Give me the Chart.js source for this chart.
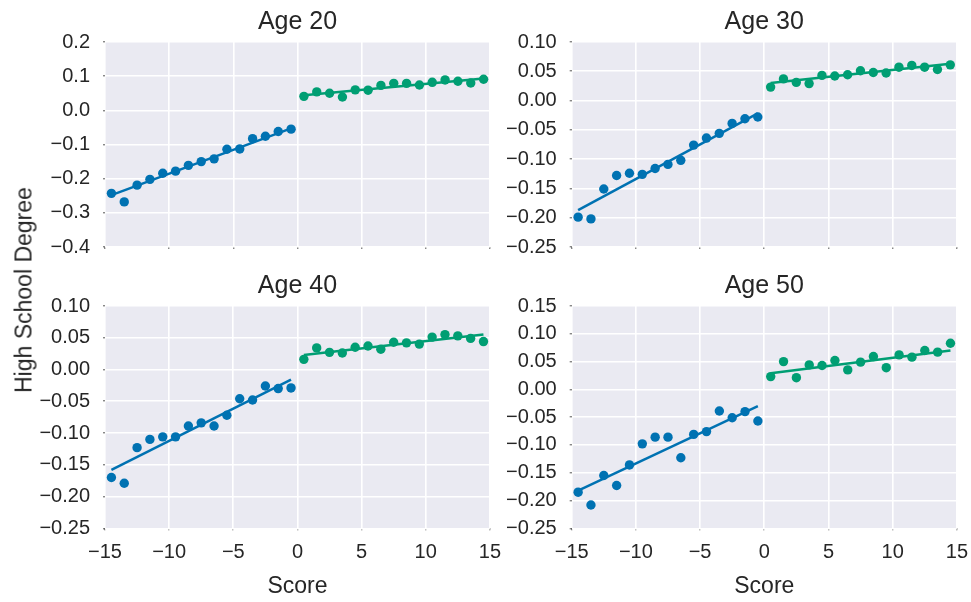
<!DOCTYPE html>
<html>
<head>
<meta charset="utf-8">
<script src="https://cdn.jsdelivr.net/npm/chart.js@4/dist/chart.umd.min.js"></script>
<style>
  html, body { margin: 0; padding: 0; background: #ffffff; }
  body { width: 971px; height: 602px; position: relative; overflow: hidden; }
  canvas { position: absolute; }
  #ylabel {
    position: absolute; left: 24px; top: 290px;
    transform: translate(-50%, -50%) rotate(-90deg);
    font-family: 'Liberation Sans', Arial, sans-serif; font-size: 23px;
    color: #262626; white-space: nowrap; line-height: 1;
  }
</style>
</head>
<body>
<canvas id="c20" width="500" height="272" style="left:0px;top:0px"></canvas>
<canvas id="c30" width="491" height="272" style="left:480px;top:0px"></canvas>
<canvas id="c40" width="511" height="338" style="left:0px;top:264px"></canvas>
<canvas id="c50" width="498" height="338" style="left:480px;top:264px"></canvas>
<div id="ylabel">High School Degree</div>
<script>
// ---- data ----
const binsBelow = [-14.5, -13.5, -12.5, -11.5, -10.5, -9.5, -8.5, -7.5, -6.5, -5.5, -4.5, -3.5, -2.5, -1.5, -0.5];
const binsAbove = [0.5, 1.5, 2.5, 3.5, 4.5, 5.5, 6.5, 7.5, 8.5, 9.5, 10.5, 11.5, 12.5, 13.5, 14.5];
const fitXBelow = [-14.5, -0.5];
const fitXAbove = [0.5, 14.5];

const age20Below = [-0.243, -0.268, -0.219, -0.202, -0.184, -0.178, -0.161, -0.150, -0.142, -0.114, -0.113, -0.083, -0.076, -0.062, -0.055];
const age20Above = [0.041, 0.054, 0.050, 0.039, 0.060, 0.059, 0.073, 0.079, 0.079, 0.074, 0.082, 0.089, 0.085, 0.080, 0.091];
const age20FitBelow = [-0.248, -0.053];
const age20FitAbove = [0.044, 0.093];

const age30Below = [-0.199, -0.202, -0.151, -0.128, -0.124, -0.126, -0.116, -0.109, -0.102, -0.076, -0.064, -0.056, -0.039, -0.031, -0.028];
const age30Above = [0.023, 0.037, 0.031, 0.029, 0.043, 0.042, 0.044, 0.051, 0.048, 0.047, 0.057, 0.060, 0.057, 0.053, 0.061];
const age30FitBelow = [-0.187, -0.022];
const age30FitAbove = [0.030, 0.063];

const age40Below = [-0.170, -0.179, -0.123, -0.110, -0.106, -0.106, -0.089, -0.084, -0.089, -0.072, -0.046, -0.048, -0.026, -0.030, -0.029];
const age40Above = [0.016, 0.034, 0.027, 0.026, 0.035, 0.037, 0.032, 0.043, 0.042, 0.040, 0.051, 0.055, 0.053, 0.049, 0.044];
const age40FitBelow = [-0.158, -0.016];
const age40FitAbove = [0.023, 0.055];

const age50Below = [-0.185, -0.208, -0.155, -0.173, -0.136, -0.098, -0.086, -0.086, -0.123, -0.081, -0.076, -0.039, -0.051, -0.040, -0.057];
const age50Above = [0.023, 0.050, 0.021, 0.044, 0.043, 0.052, 0.035, 0.049, 0.059, 0.039, 0.062, 0.058, 0.070, 0.067, 0.083];
const age50FitBelow = [-0.182, -0.030];
const age50FitAbove = [0.029, 0.070];

const xTicks = [-15, -10, -5, 0, 5, 10, 15];
const yTicks20 = [0.2, 0.1, 0.0, -0.1, -0.2, -0.3, -0.4];
const yTicks30 = [0.10, 0.05, 0.00, -0.05, -0.10, -0.15, -0.20, -0.25];
const yTicks40 = [0.10, 0.05, 0.00, -0.05, -0.10, -0.15, -0.20, -0.25];
const yTicks50 = [0.15, 0.10, 0.05, 0.00, -0.05, -0.10, -0.15, -0.20, -0.25];

const titles = ['Age 20', 'Age 30', 'Age 40', 'Age 50'];
const xTitle = 'Score';

// ---- styling ----
const BLUE = '#0072B2';
const GREEN = '#009E73';
const TEXT = '#262626';
Chart.defaults.font.family = "'Liberation Sans', Arial, Helvetica, sans-serif";
Chart.defaults.color = TEXT;

const bgPlugin = {
  id: 'plotBg',
  beforeDraw(chart) {
    const a = chart.chartArea, ctx = chart.ctx;
    ctx.save();
    ctx.fillStyle = '#EAEAF2';
    ctx.fillRect(a.left, a.top, a.right - a.left, a.bottom - a.top);
    ctx.restore();
  }
};

function pts(xs, ys) { return xs.map((x, i) => ({ x: x, y: ys[i] })); }
function fmt(v, dec) {
  const s = Number(v).toFixed(dec);
  return s.charAt(0) === '-' ? '\u2212' + s.slice(1) : s;
}

function makePanel(id, title, below, above, fitB, fitA, yTicks, dec, opts) {
  const ctx = document.getElementById(id);
  return new Chart(ctx, {
    type: 'scatter',
    data: {
      datasets: [
        { type: 'line', data: pts(fitXBelow, fitB), borderColor: BLUE, borderWidth: 2.5, pointRadius: 0, fill: false, order: 0 },
        { type: 'line', data: pts(fitXAbove, fitA), borderColor: GREEN, borderWidth: 2.5, pointRadius: 0, fill: false, order: 0 },
        { data: pts(binsBelow, below), backgroundColor: BLUE, borderWidth: 0, pointRadius: 4.7, order: 1 },
        { data: pts(binsAbove, above), backgroundColor: GREEN, borderWidth: 0, pointRadius: 4.7, order: 1 }
      ]
    },
    options: {
      responsive: false,
      animation: false,
      devicePixelRatio: 1,
      layout: { padding: { left: 0, right: opts.padRight, top: 0, bottom: 0 } },
      plugins: {
        legend: { display: false },
        tooltip: { enabled: false },
        title: {
          display: true, text: title, fullSize: false, color: TEXT,
          font: { size: 25, weight: 'normal', lineHeight: 1.2 }, padding: { top: 7, bottom: 5 }
        }
      },
      scales: {
        x: {
          type: 'linear', min: -15, max: 15,
          border: { display: false },
          grid: { color: '#ffffff', lineWidth: 1.6, drawTicks: true, tickLength: 2, tickColor: '#555555', tickWidth: 1 },
          afterBuildTicks: s => { s.ticks = xTicks.map(v => ({ value: v })); },
          ticks: {
            display: opts.showX, font: { size: 20 }, color: TEXT, padding: 10, maxRotation: 0,
            callback: v => fmt(v, 0)
          },
          title: { display: opts.showX, text: xTitle, color: TEXT, font: { size: 23, lineHeight: 1.2 }, padding: { top: 0, bottom: 2 } },
          afterFit: s => { s.height = opts.xHeight; }
        },
        y: {
          type: 'linear', min: yTicks[yTicks.length - 1], max: yTicks[0],
          border: { display: false },
          grid: { color: '#ffffff', lineWidth: 1.6, drawTicks: true, tickLength: 2, tickColor: '#555555', tickWidth: 1 },
          afterBuildTicks: s => { s.ticks = yTicks.map(v => ({ value: v })); },
          ticks: { font: { size: 20 }, color: TEXT, padding: 13, callback: v => fmt(v, dec) },
          afterFit: s => { s.width = opts.yWidth; }
        }
      }
    },
    plugins: [bgPlugin]
  });
}

makePanel('c20', titles[0], age20Below, age20Above, age20FitBelow, age20FitAbove, yTicks20, 1,
  { padRight: 10, yWidth: 105, xHeight: 10, showX: false });
makePanel('c30', titles[1], age30Below, age30Above, age30FitBelow, age30FitAbove, yTicks30, 2,
  { padRight: 14.3, yWidth: 91.7, xHeight: 10, showX: false });
makePanel('c40', titles[2], age40Below, age40Above, age40FitBelow, age40FitAbove, yTicks40, 2,
  { padRight: 0, yWidth: 105, xHeight: 73.7, showX: true });
makePanel('c50', titles[3], age50Below, age50Above, age50FitBelow, age50FitAbove, yTicks50, 2,
  { padRight: 0, yWidth: 91.7, xHeight: 73.7, showX: true });
</script>
</body>
</html>
